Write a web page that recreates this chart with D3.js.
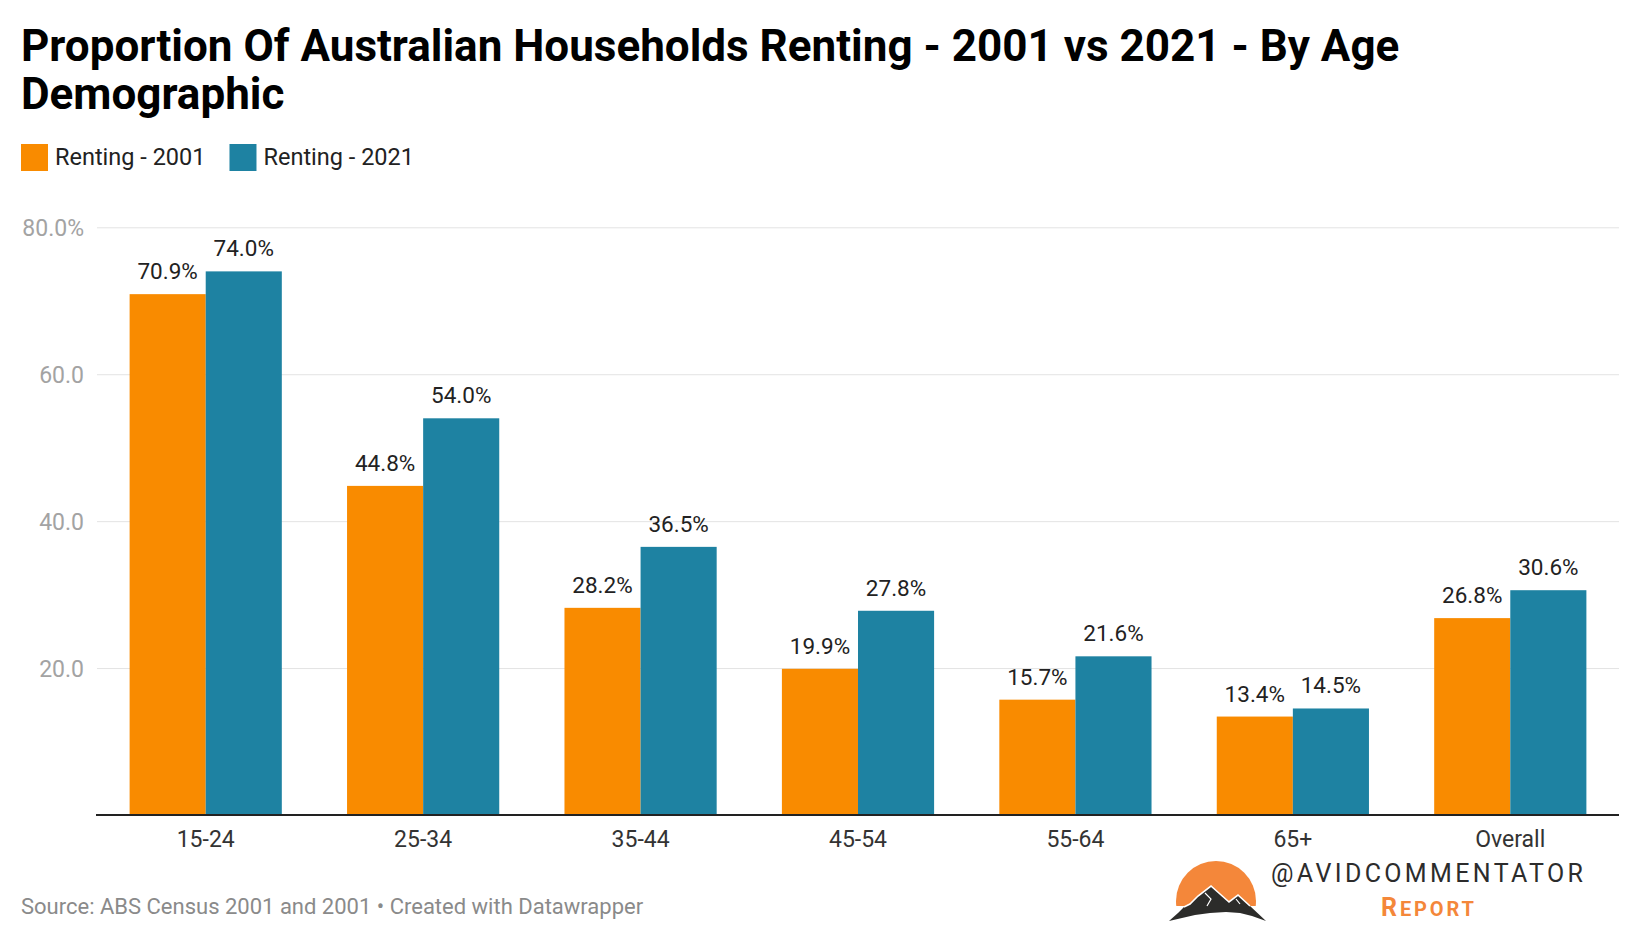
<!DOCTYPE html>
<html>
<head>
<meta charset="utf-8">
<script src="https://cdn.jsdelivr.net/npm/d3@7"></script>
<style>
  html, body { margin: 0; padding: 0; background: #fff; }
  svg { display: block; font-family: Roboto, "Noto Sans", sans-serif; }
</style>
</head>
<body>
<svg id="chart" width="1640" height="940"></svg>
<script>
// ---- data ----
const categories = ["15-24", "25-34", "35-44", "45-54", "55-64", "65+", "Overall"];
const seriesNames = ["Renting - 2001", "Renting - 2021"];
const renting2001 = [70.9, 44.8, 28.2, 19.9, 15.7, 13.4, 26.8];
const renting2021 = [74.0, 54.0, 36.5, 27.8, 21.6, 14.5, 30.6];
const yTicks = [20, 40, 60, 80];
const yTickLabels = ["20.0", "40.0", "60.0", "80.0%"];
const titleLines = ["Proportion Of Australian Households Renting - 2001 vs 2021 - By Age", "Demographic"];
const sourceText = "Source: ABS Census 2001 and 2001 \u2022 Created with Datawrapper";

const colors = ["#f98b00", "#1e82a2"];
const seriesValues = [renting2001, renting2021];

const svg = d3.select("#chart");
svg.append("rect").attr("width", 1640).attr("height", 940).attr("fill", "#fff");

// ---- title ----
svg.append("g").selectAll("text").data(titleLines).join("text")
  .attr("x", 21)
  .attr("y", (d, i) => 61 + i * 48)
  .attr("font-size", 44)
  .attr("font-weight", 700)
  .attr("fill", "#000")
  .text(d => d);

// ---- legend ----
const legend = svg.append("g");
let lx = 21;
seriesNames.forEach((name, i) => {
  legend.append("rect").attr("x", lx).attr("y", 144).attr("width", 27).attr("height", 27).attr("fill", colors[i]);
  const t = legend.append("text").attr("x", lx + 34).attr("y", 164.5)
    .attr("font-size", 23.5).attr("fill", "#222").text(name);
  lx = lx + 34 + t.node().getComputedTextLength() + 24;
});

// ---- scales ----
const left = 97, right = 1619;
const x = d3.scaleBand().domain(categories).range([left, right]).paddingInner(0.3).paddingOuter(0.15);
const x1 = d3.scaleBand().domain(seriesNames).range([0, x.bandwidth()]);
const y = d3.scaleLinear().domain([0, 80]).range([815, 227.3]);

// ---- y axis / gridlines ----
const yAxis = svg.append("g").attr("transform", `translate(${left},0)`)
  .call(d3.axisLeft(y).tickValues(yTicks).tickFormat((d, i) => yTickLabels[i])
    .tickSizeInner(-(right - left)).tickSizeOuter(0).tickPadding(13));
yAxis.select(".domain").remove();
yAxis.selectAll(".tick line").attr("stroke", "#e3e3e3").attr("stroke-width", 1);
yAxis.selectAll(".tick text").attr("font-size", 23).attr("fill", "#a3a3a3")
  .attr("font-family", "Roboto, sans-serif").attr("dy", "0.36em");

// ---- bars ----
const rows = categories.map((c, ci) => ({ cat: c, vals: seriesNames.map((s, si) => ({ s, si, v: seriesValues[si][ci] })) }));
const groups = svg.append("g").selectAll("g").data(rows).join("g")
  .attr("transform", d => `translate(${x(d.cat)},0)`);
groups.selectAll("rect").data(d => d.vals).join("rect")
  .attr("x", d => x1(d.s))
  .attr("y", d => y(d.v))
  .attr("width", x1.bandwidth())
  .attr("height", d => y(0) - y(d.v))
  .attr("fill", d => colors[d.si]);
groups.selectAll("text").data(d => d.vals).join("text")
  .attr("x", d => x1(d.s) + x1.bandwidth() / 2)
  .attr("y", d => y(d.v) - 15)
  .attr("text-anchor", "middle")
  .attr("font-size", 22.5)
  .attr("fill", "#222")
  .text(d => d.v.toFixed(1) + "%");

// ---- x axis ----
const xAxis = svg.append("g").attr("transform", `translate(0,${y(0)})`)
  .call(d3.axisBottom(x).tickSize(0).tickPadding(0));
xAxis.select(".domain").attr("stroke", "#222").attr("stroke-width", 2)
  .attr("d", `M${left - 1},0H${right}`);
xAxis.selectAll(".tick text").attr("font-size", 23).attr("fill", "#333")
  .attr("font-family", "Roboto, sans-serif").attr("y", 32).attr("dy", 0);

// ---- footer ----
svg.append("text").attr("x", 21).attr("y", 914).attr("font-size", 22).attr("fill", "#8a8a8a").text(sourceText);

// ---- logo ----
const logo = svg.append("g");
logo.append("clipPath").attr("id", "sunclip").append("rect").attr("x", 1170).attr("y", 850).attr("width", 100).attr("height", 56);
logo.append("circle").attr("cx", 1216).attr("cy", 901).attr("r", 40).attr("fill", "#f4873a").attr("clip-path", "url(#sunclip)");
logo.append("path")
  .attr("d", "M1169,921 L1178,913 L1184,907 L1190,904 L1198,896 L1211,886 L1220,894 L1229,902 L1238,895 L1250,906 L1266,921 L1252,916 L1240,913 L1226,912 L1210,913 L1195,915 L1182,918 Z")
  .attr("fill", "#2c2c2a");
logo.append("path")
  .attr("d", "M1184,907 L1190,904 L1198,896 L1211,886 L1220,894 L1229,902 L1238,895 L1250,906")
  .attr("fill", "none").attr("stroke", "#fff").attr("stroke-width", 1.6);
logo.append("path")
  .attr("d", "M1205,893 L1211,899 L1207,906 M1236,899 L1240,904")
  .attr("fill", "none").attr("stroke", "#fff").attr("stroke-width", 1.2);
logo.append("text").attr("x", 1271).attr("y", 882).attr("font-size", 25).attr("font-weight", 400)
  .attr("fill", "#2c2c2c").attr("textLength", 312).attr("lengthAdjust", "spacing").text("@AVIDCOMMENTATOR");
const rep = logo.append("text").attr("x", 1381).attr("y", 916).attr("font-weight", 700)
  .attr("fill", "#f4873a").attr("textLength", 93).attr("lengthAdjust", "spacing");
rep.append("tspan").attr("font-size", 25).text("R");
rep.append("tspan").attr("font-size", 20).text("EPORT");
</script>
</body>
</html>
